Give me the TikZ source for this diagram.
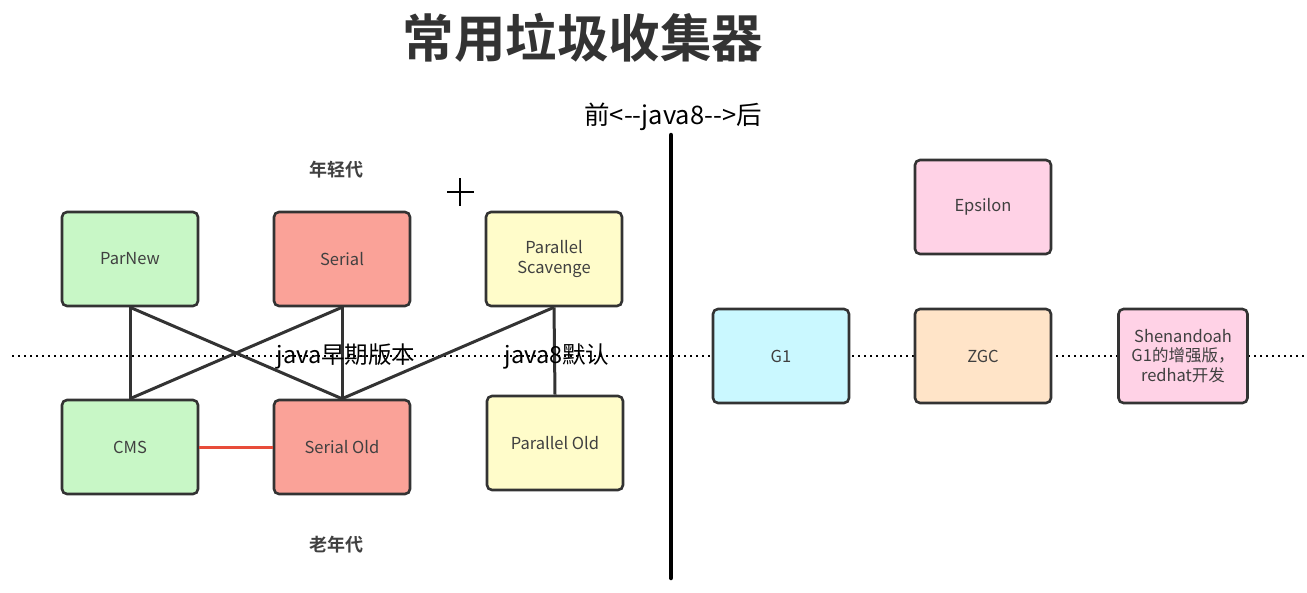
\documentclass[tikz,border=0pt]{standalone}
\usepackage{fontspec}
\setmainfont{Noto Sans CJK SC}
\newfontfamily\cjkbold{Noto Sans CJK SC Bold}
\begin{document}
\begin{tikzpicture}[x=1pt,y=-1pt,
  gc/.style={draw=black!80, line width=2.6pt, rounded corners=5pt, minimum width=136pt, minimum height=94pt, inner sep=0pt, font=\fontsize{16.5}{19.5}\selectfont, text=black!75, align=center},
  link/.style={draw=black!80, line width=3pt},
  lbl/.style={font=\fontsize{23.5}{27}\selectfont, text=black, inner sep=0pt}]
\useasboundingbox (0,0) rectangle (1307,592);
\definecolor{cgreen}{RGB}{200,247,198}
\definecolor{cred}{RGB}{250,162,152}
\definecolor{cyellow}{RGB}{255,252,202}
\definecolor{cpink}{RGB}{255,210,230}
\definecolor{ccyan}{RGB}{202,248,255}
\definecolor{cpeach}{RGB}{255,228,200}
\definecolor{cline}{RGB}{232,76,58}
% dotted horizontal
\coordinate (dl) at (12,356);
\coordinate (dr) at (1307,356);
\draw[line width=2.2pt, dash pattern=on 2.2pt off 3.8pt] (dl) -- (dr);
% vertical divider
\coordinate (vt) at (671,135);
\coordinate (vb) at (671,578);
\draw[line width=4.5pt, line cap=round] (vt) -- (vb);
% title
\node[font=\cjkbold\fontsize{51.5}{56}\selectfont, text=black!80] (title) at (583,38) {常用垃圾收集器};
\node[font=\fontsize{25.5}{29}\selectfont] (java8) at (673,117) {前<-{}-java8-{}->后};
\node[font=\cjkbold\fontsize{18}{22}\selectfont, text=black!75] (young) at (336,170) {年轻代};
\node[font=\cjkbold\fontsize{18}{22}\selectfont, text=black!75] (old) at (336,545) {老年代};
% crosshair
\coordinate (ch1) at (447,192); \coordinate (ch2) at (474,192);
\coordinate (cv1) at (460,178); \coordinate (cv2) at (460,206);
\draw[line width=1.6pt] (ch1) -- (ch2) (cv1) -- (cv2);
% boxes
\node[gc, fill=cgreen] (parnew) at (130,259) {ParNew};
\node[gc, fill=cred] (serial) at (342,259) {Serial};
\node[gc, fill=cyellow] (ps) at (554,259) {Parallel\\Scavenge};
\node[gc, fill=cgreen] (cms) at (130,447) {CMS};
\node[gc, fill=cred] (serialold) at (342,447) {Serial Old};
\node[gc, fill=cyellow] (po) at (555,443) {Parallel Old};
\node[gc, fill=cpink] (eps) at (983,207) {Epsilon};
\node[gc, fill=ccyan] (g1) at (781,356) {G1};
\node[gc, fill=cpeach] (zgc) at (983,356) {ZGC};
\node[gc, fill=cpink, minimum width=129pt] (shen) at (1183,356) {Shenandoah\\G1的增强版，\\redhat开发};
% links
\draw[link] (parnew.south) -- (cms.north);
\draw[link] (parnew.south) -- (serialold.north);
\draw[link] (serial.south) -- (cms.north);
\draw[link] (serial.south) -- (serialold.north);
\draw[link] (ps.south) -- (serialold.north);
\draw[link] (ps.south) -- (po.north);
\draw[line width=3pt, draw=cline] (cms.east) -- (serialold.west);
% labels
\node[lbl] (early) at (346,356) {java早期版本};
\node[lbl] (default) at (557,356) {java8默认};
\end{tikzpicture}
\end{document}
